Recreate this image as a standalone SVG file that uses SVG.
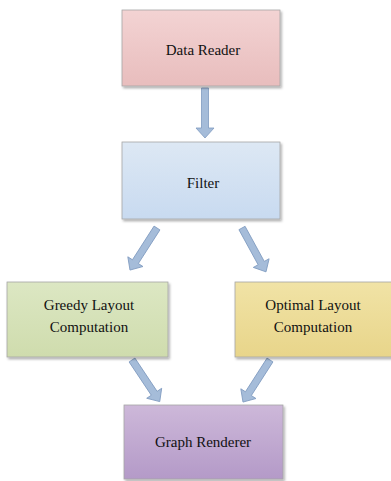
<svg xmlns="http://www.w3.org/2000/svg" width="391" height="481" viewBox="0 0 391 481">
<style>
.box{stroke:#a6a6a6;stroke-width:0.8;filter:url(#sh)}
.lbl{font-size:15px;fill:#111;text-anchor:middle}
.arr{fill:#a5bcd9;stroke:#7f9bc0;stroke-width:0.8}
</style>
<defs>
<filter id="sh" x="-5%" y="-5%" width="115%" height="120%">
<feDropShadow dx="1.5" dy="2" stdDeviation="1.2" flood-color="#000" flood-opacity="0.3"/>
</filter>
<linearGradient id="gPink" x1="0" y1="0" x2="0" y2="1"><stop offset="0" stop-color="#f3d3d3"/><stop offset="1" stop-color="#e8bdbd"/></linearGradient>
<linearGradient id="gBlue" x1="0" y1="0" x2="0" y2="1"><stop offset="0" stop-color="#dde8f4"/><stop offset="1" stop-color="#c8daf0"/></linearGradient>
<linearGradient id="gGreen" x1="0" y1="0" x2="0" y2="1"><stop offset="0" stop-color="#dce7c3"/><stop offset="1" stop-color="#cfdcad"/></linearGradient>
<linearGradient id="gYellow" x1="0" y1="0" x2="0" y2="1"><stop offset="0" stop-color="#f1e3a6"/><stop offset="1" stop-color="#e8d58a"/></linearGradient>
<linearGradient id="gPurple" x1="0" y1="0" x2="0" y2="1"><stop offset="0" stop-color="#cdb8d9"/><stop offset="1" stop-color="#b49ac8"/></linearGradient>
<path id="arr" d="M-3.5,0 L3.5,0 L3.5,40 L9,40 L0,50 L-9,40 L-3.5,40 Z"/>
</defs>
<g id="connectors">
<use href="#arr" class="arr" transform="translate(205,88)"/>
<use href="#arr" class="arr" transform="translate(157,228) rotate(32.7)"/>
<use href="#arr" class="arr" transform="translate(242,228) rotate(-28.7)"/>
<use href="#arr" class="arr" transform="translate(132,360) rotate(-33.7)"/>
<use href="#arr" class="arr" transform="translate(270,360) rotate(32.7)"/>
</g>
<g font-family="'Liberation Serif', 'DejaVu Serif', serif">
<g id="data-reader">
<rect class="box" x="122" y="10" width="158" height="76" fill="url(#gPink)"/>
<text class="lbl" x="203" y="55">Data Reader</text>
</g>
<g id="filter">
<rect class="box" x="122" y="142" width="158" height="77" fill="url(#gBlue)"/>
<text class="lbl" x="203" y="188">Filter</text>
</g>
<g id="greedy">
<rect class="box" x="7" y="282" width="161" height="75" fill="url(#gGreen)"/>
<text class="lbl" x="89" y="310">Greedy Layout</text>
<text class="lbl" x="89" y="332">Computation</text>
</g>
<g id="optimal">
<rect class="box" x="235" y="282" width="158" height="75" fill="url(#gYellow)"/>
<text class="lbl" x="313" y="310">Optimal Layout</text>
<text class="lbl" x="313" y="332">Computation</text>
</g>
<g id="graph-renderer">
<rect class="box" x="124" y="405" width="159" height="74" fill="url(#gPurple)"/>
<text class="lbl" x="203" y="447">Graph Renderer</text>
</g>
</g>
</svg>
